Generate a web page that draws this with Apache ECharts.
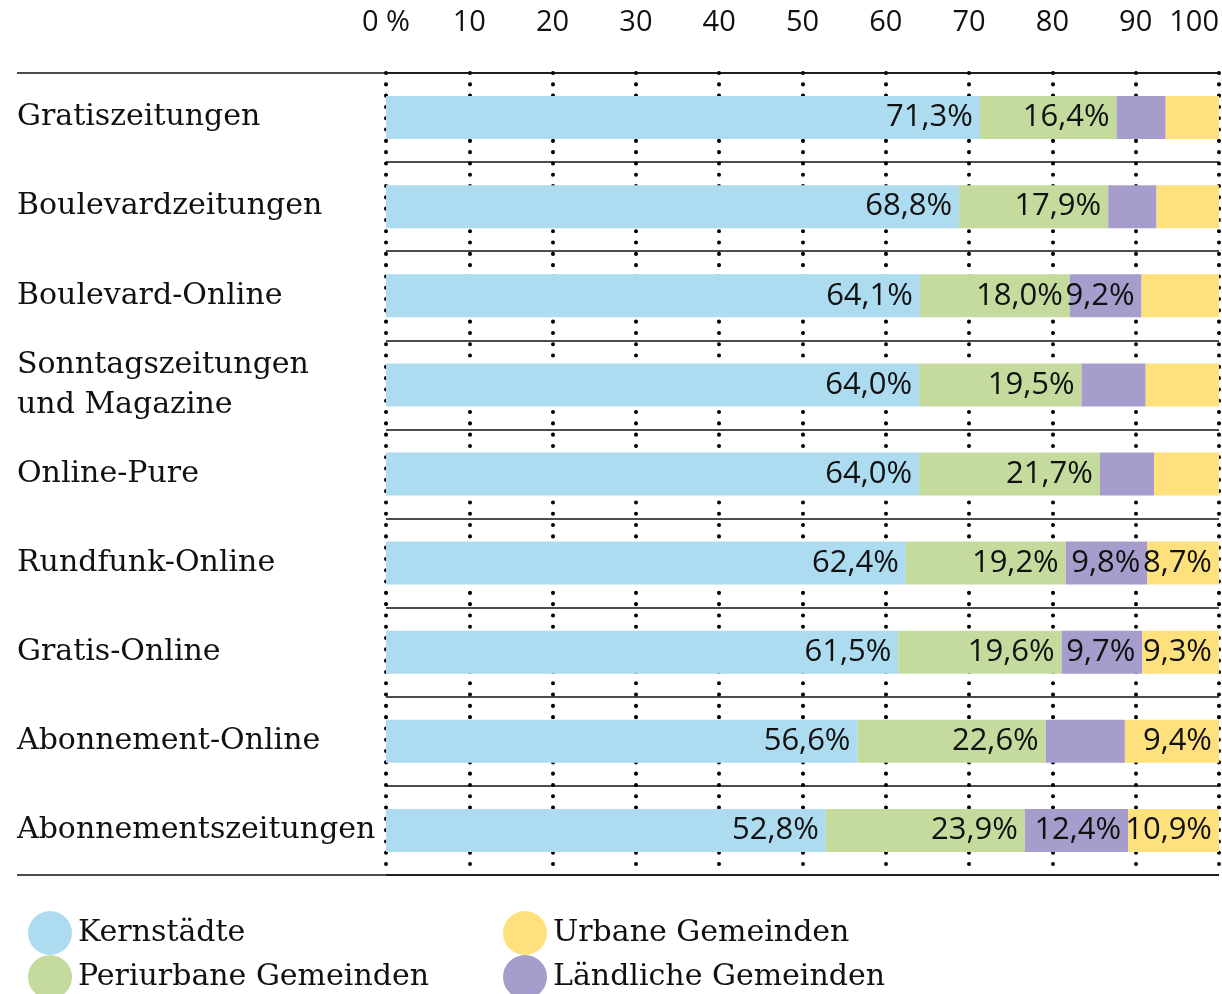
<!DOCTYPE html>
<html>
    <head>
        <meta charset="utf-8">
        <title>Gemeindetypen nach Medientyp</title>
        <script src="https://cdn.jsdelivr.net/npm/echarts@6/dist/echarts.min.js"></script>
        <style>
            body{margin:0;background:#fff;}
        </style>
    </head>
    <body>
        <div id="chart" style="width:1222px;height:994px;"></div>
        <script type="text/javascript">
            // categories, top to bottom
            var categories=["Gratiszeitungen","Boulevardzeitungen","Boulevard-Online","Sonntagszeitungen\nund Magazine",
                "Online-Pure","Rundfunk-Online","Gratis-Online","Abonnement-Online","Abonnementszeitungen"];
            var seriesNames=["Kernstädte","Periurbane Gemeinden","Ländliche Gemeinden","Urbane Gemeinden"];
            var colors=["#addcf0","#c5db9e","#a69dcc","#fee07d"];

            // shares in % (unlabelled segments)
            var kernstaedte=[71.3,68.8,64.1,64.0,64.0,62.4,61.5,56.6,52.8];
            var periurban=[16.4,17.9,18.0,19.5,21.7,19.2,19.6,22.6,23.9];
            var laendlich=[5.9,5.8,8.6,7.7,6.5,9.8,9.7,9.5,12.4];
            var urban=[6.4,7.5,9.3,8.8,7.8,8.7,9.3,11.3,10.9];

            // printed labels ("" = no label)
            var kernLabels=["71,3%","68,8%","64,1%","64,0%","64,0%","62,4%","61,5%","56,6%","52,8%"];
            var periLabels=["16,4%","17,9%","18,0%","19,5%","21,7%","19,2%","19,6%","22,6%","23,9%"];
            var laendLabels=["","","9,2%","","","9,8%","9,7%","","12,4%"];
            var urbanLabels=["","","","","","8,7%","9,3%","9,4%","10,9%"];

            var xTicks=["0 %","10","20","30","40","50","60","70","80","90","100"];

            var allValues=[kernstaedte,periurban,laendlich,urban];
            var allLabels=[kernLabels,periLabels,laendLabels,urbanLabels];

            var serif="DejaVu Serif";
            var sans="Open Sans";
            var ink="#111";

            var myChart=echarts.init(document.getElementById('chart'));

            var Series=[];
            for(var i=0;i<seriesNames.length;i++){
                (function(k){
                    Series.push({
                        name:seriesNames[k],
                        type:"bar",
                        stack:"total",
                        barWidth:43,
                        itemStyle:{color:colors[k]},
                        label:{
                            show:true,
                            position:"insideRight",
                            distance:7,
                            color:ink,
                            fontFamily:sans,
                            fontSize:31,
                            formatter:function(p){return allLabels[k][p.dataIndex];}
                        },
                        data:allValues[k]
                    });
                })(i);
            }

            var gridLeft=386, gridRight=3, gridTop=73, gridBottom=119;

            // one legend per item so the two columns line up
            var legendPos=[[23,906],[23,950],[498,950],[498,906]];
            var Legends=[];
            for(var j=0;j<seriesNames.length;j++){
                Legends.push({
                    data:[seriesNames[j]],
                    left:legendPos[j][0],top:legendPos[j][1],
                    icon:"circle",itemWidth:44,itemHeight:44,
                    textStyle:{fontFamily:serif,fontSize:30,color:ink,padding:[0,0,0,1]}
                });
            }

            var option={
                animation:false,
                grid:{left:gridLeft,right:gridRight,top:gridTop,bottom:gridBottom,containLabel:false},
                xAxis:{
                    type:"value",
                    position:"top",
                    min:0,max:100,interval:10,
                    axisLine:{show:false},
                    axisTick:{show:false},
                    axisLabel:{
                        margin:36,
                        color:ink,
                        fontFamily:sans,
                        fontSize:29,
                        alignMaxLabel:"right",
                        formatter:function(v){return xTicks[Math.round(v/10)];}
                    },
                    splitLine:{show:true,lineStyle:{color:"#000",width:4,type:[0.1,11.2],cap:"round"}}
                },
                yAxis:{
                    type:"category",
                    inverse:true,
                    data:categories,
                    axisLine:{show:false},
                    axisTick:{show:false},
                    axisLabel:{
                        align:"left",
                        margin:369,
                        color:ink,
                        fontFamily:serif,
                        fontSize:30,
                        lineHeight:40
                    },
                    splitLine:{show:true,lineStyle:{color:"#111",width:1.6}}
                },
                legend:Legends,
                graphic:[
                    {type:"line",shape:{x1:17,y1:gridTop,x2:1222-gridRight,y2:gridTop},style:{stroke:"#111",lineWidth:1.6},z:10},
                    {type:"line",shape:{x1:17,y1:994-gridBottom,x2:1222-gridRight,y2:994-gridBottom},style:{stroke:"#111",lineWidth:1.6},z:10}
                ],
                series:Series
            };

            myChart.setOption(option);
        </script>
    </body>
</html>
